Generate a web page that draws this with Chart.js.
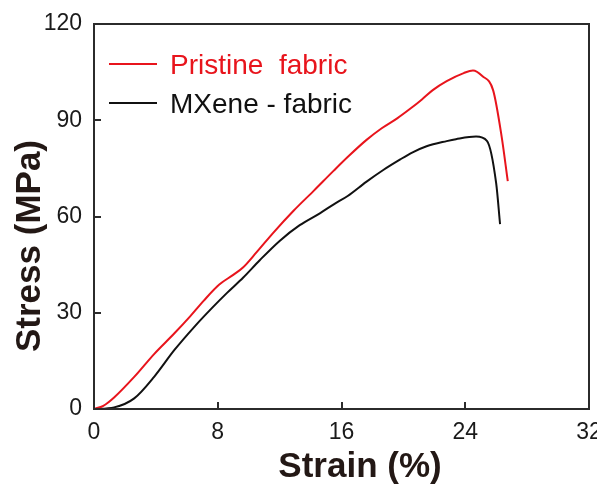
<!DOCTYPE html>
<html>
<head>
<meta charset="utf-8">
<script src="https://cdn.jsdelivr.net/npm/chart.js@4/dist/chart.umd.min.js"></script>
<style>
  html, body { margin: 0; padding: 0; background: #fff; }
  #wrap { width: 597px; height: 486px; position: relative; }
</style>
</head>
<body>
<div id="wrap"><canvas id="Chart"></canvas></div>
<script>
// values (strain %, stress MPa)
const pristineStrain = [0, 0.6, 1.3, 2.6, 3.9, 5.2, 6.2, 7.1, 8.1, 9.0, 9.65, 10.5, 11.6, 12.9, 14.2, 15.5, 16.5, 17.6, 18.6, 19.6, 20.5, 21.2, 21.9, 22.8, 23.9, 24.5, 25.1, 25.8, 26.35, 26.75];
const pristineStress = [0, 1.0, 3.6, 10.0, 17.2, 23.6, 28.8, 33.8, 38.8, 41.8, 44.2, 48.8, 55.0, 61.8, 68.0, 74.3, 79.0, 83.8, 87.5, 90.6, 93.8, 96.5, 99.4, 102.2, 104.7, 105.5, 103.8, 99.4, 85.0, 71.0];

const mxeneStrain = [0, 1.3, 2.6, 3.9, 5.2, 6.5, 7.65, 8.6, 9.65, 10.7, 12.0, 13.3, 14.6, 15.5, 16.4, 17.6, 18.7, 19.8, 20.6, 21.5, 22.8, 23.4, 24.7, 25.4, 26.0, 26.25];
const mxeneStress = [0, 0.5, 3.3, 10.1, 18.4, 25.7, 31.6, 36.2, 41.0, 46.3, 52.4, 57.3, 61.0, 63.8, 66.4, 70.8, 74.5, 77.8, 80.0, 81.9, 83.5, 84.1, 84.9, 83.6, 70.3, 57.6];

const xTicks = [0, 8, 16, 24, 32];
const yTicks = [0, 30, 60, 90, 120];

const seriesNames = ['Pristine  fabric', 'MXene - fabric'];
const seriesColors = ['#e8141c', '#111111'];

function toPoints(xs, ys) {
  return xs.map((x, i) => ({x: x, y: ys[i]}));
}

// frame, inward ticks, axis titles and the in-plot legend
const decor = {
  id: 'decor',
  afterDraw(chart) {
    const ctx = chart.ctx;
    const a = chart.chartArea;
    const xs = chart.scales.x, ys = chart.scales.y;
    ctx.save();
    ctx.strokeStyle = '#2b2b2b';
    ctx.lineWidth = 2;
    ctx.strokeRect(a.left, a.top, a.right - a.left, a.bottom - a.top);
    ctx.beginPath();
    xTicks.slice(1, -1).forEach(v => {
      const px = Math.round(xs.getPixelForValue(v));
      ctx.moveTo(px, a.bottom);
      ctx.lineTo(px, a.bottom - 7);
    });
    yTicks.slice(1, -1).forEach(v => {
      const py = Math.round(ys.getPixelForValue(v));
      ctx.moveTo(a.left, py);
      ctx.lineTo(a.left + 7, py);
    });
    ctx.stroke();

    // axis titles
    ctx.fillStyle = '#231815';
    ctx.font = 'bold 35px "Liberation Sans", Arial, sans-serif';
    ctx.textAlign = 'center';
    ctx.textBaseline = 'middle';
    ctx.fillText('Strain (%)', 360, 467);
    ctx.save();
    ctx.translate(30, 246);
    ctx.rotate(-Math.PI / 2);
    ctx.fillText('Stress (MPa)', 0, 0);
    ctx.restore();

    // legend
    ctx.font = '28px "Liberation Sans", Arial, sans-serif';
    ctx.textAlign = 'left';
    chart.data.datasets.forEach((ds, i) => {
      const yy = 64 + i * 39;
      ctx.strokeStyle = ds.borderColor;
      ctx.lineWidth = 2;
      ctx.beginPath();
      ctx.moveTo(109, yy);
      ctx.lineTo(157, yy);
      ctx.stroke();
      ctx.fillStyle = ds.borderColor;
      ctx.fillText(ds.label, 170, yy + 2);
    });
    ctx.restore();
  }
};

const ctx = document.getElementById('Chart').getContext('2d');
new Chart(ctx, {
  type: 'scatter',
  data: {
    datasets: [
      {
        label: seriesNames[0],
        data: toPoints(pristineStrain, pristineStress),
        showLine: true,
        borderColor: seriesColors[0],
        borderWidth: 2,
        pointRadius: 0,
        cubicInterpolationMode: 'monotone'
      },
      {
        label: seriesNames[1],
        data: toPoints(mxeneStrain, mxeneStress),
        showLine: true,
        borderColor: seriesColors[1],
        borderWidth: 2,
        pointRadius: 0,
        cubicInterpolationMode: 'monotone'
      }
    ]
  },
  options: {
    responsive: true,
    maintainAspectRatio: false,
    animation: false,
    layout: { padding: { top: 24, right: 8, left: 0, bottom: 0 } },
    plugins: { legend: { display: false }, tooltip: { enabled: false } },
    scales: {
      x: {
        type: 'linear',
        min: 0,
        max: 32,
        grid: { display: false },
        border: { display: false },
        afterBuildTicks: s => { s.ticks = xTicks.map(v => ({value: v})); },
        afterFit: s => { s.height = 77; s.paddingLeft = 0; s.paddingRight = 0; },
        ticks: {
          padding: 2,
          maxRotation: 0,
          color: '#1a1a1a',
          font: { family: '"Liberation Sans", Arial, sans-serif', size: 23 }
        }
      },
      y: {
        type: 'linear',
        min: 0,
        max: 120,
        grid: { display: false },
        border: { display: false },
        afterBuildTicks: s => { s.ticks = yTicks.map(v => ({value: v})); },
        afterFit: s => { s.width = 94; s.paddingTop = 0; s.paddingBottom = 0; },
        ticks: {
          padding: 4,
          color: '#1a1a1a',
          font: { family: '"Liberation Sans", Arial, sans-serif', size: 23 }
        }
      }
    }
  },
  plugins: [decor]
});
</script>
</body>
</html>
